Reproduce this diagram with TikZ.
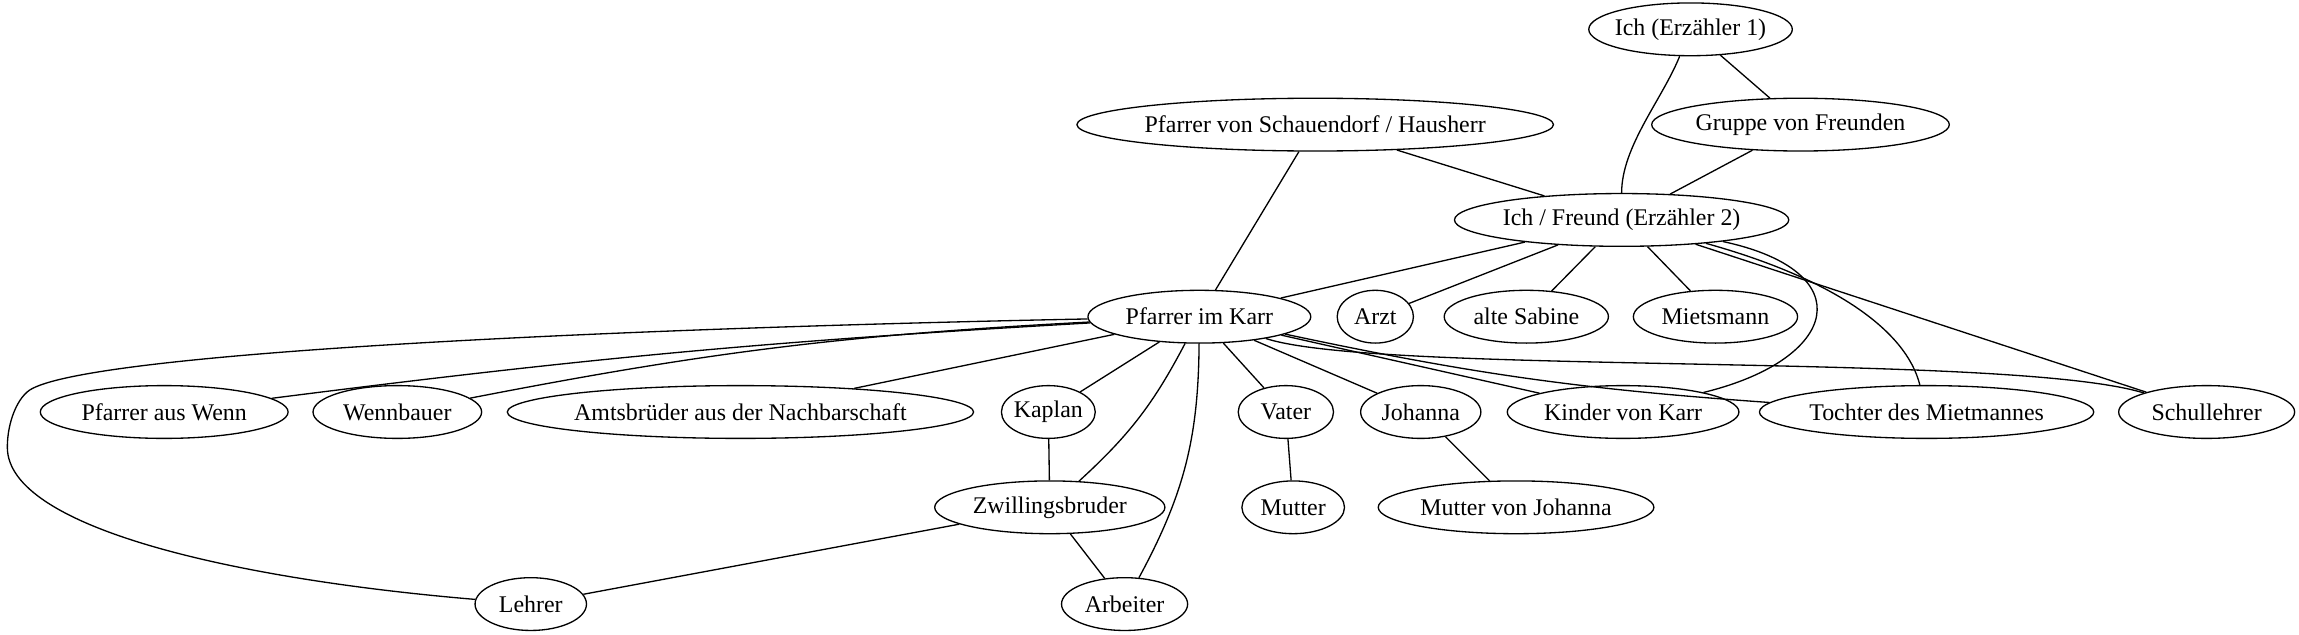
\documentclass[tikz,border=0pt]{standalone}
\usepackage{fontspec}
\setmainfont{Liberation Serif}
\usetikzlibrary{shapes.geometric}

\begin{document}
\begin{tikzpicture}[x=1pt, y=-1pt, line width=0.9pt,
    person/.style={draw, ellipse, minimum height=36pt, inner xsep=-2.5pt,
      inner ysep=1pt, font=\fontsize{16.3}{19}\selectfont}]
      \useasboundingbox (0,0) rectangle (1568,433);
      %\draw [help lines] (0,0) grid [step=50] (1568,433);
      \node [person, minimum width=126pt] (ich1) at (1153,20) {Ich (Erzähler 1)};
      \node [person, minimum width=325pt] (schauen) at (897,85) {Pfarrer von Schauendorf / Hausherr};
      \node [person, minimum width=203pt] (gruppe) at (1228,85) {Gruppe von Freunden};
      \node [person, minimum width=228pt] (ich2) at (1106,150) {Ich / Freund (Erzähler 2)};
      \node [person, minimum width=152pt] (karr) at (818,216) {Pfarrer im Karr};
      \node [person, minimum width=52pt] (arzt) at (938,216) {Arzt};
      \node [person, minimum width=112pt] (sabine) at (1041,216) {alte Sabine};
      \node [person, minimum width=112pt] (miets) at (1170,216) {Mietsmann};
      \node [person, minimum width=169pt] (wenn) at (112,281) {Pfarrer aus Wenn};
      \node [person, minimum width=115pt] (wennb) at (271,281) {Wennbauer};
      \node [person, minimum width=318pt] (amts) at (505,281) {Amtsbrüder aus der Nachbarschaft};
      \node [person, minimum width=64pt] (kaplan) at (715,281) {Kaplan};
      \node [person, minimum width=65pt] (vater) at (877,281) {Vater};
      \node [person, minimum width=82pt] (johanna) at (969,281) {Johanna};
      \node [person, minimum width=158pt] (kinder) at (1107,281) {Kinder von Karr};
      \node [person, minimum width=228pt] (tochter) at (1314,281) {Tochter des Mietmannes};
      \node [person, minimum width=120pt] (schull) at (1505,281) {Schullehrer};
      \node [person, minimum width=157pt] (zwill) at (716,346) {Zwillingsbruder};
      \node [person, minimum width=70pt] (mutter) at (882,346) {Mutter};
      \node [person, minimum width=188pt] (mutterj) at (1034,346) {Mutter von Johanna};
      \node [person, minimum width=76pt] (lehrer) at (362,412) {Lehrer};
      \node [person, minimum width=86pt] (arbeiter) at (767,412) {Arbeiter};

      \draw (ich1) to [out=-112, in=90, looseness=0.8] (ich2);
      \draw (ich1) -- (gruppe);
      \draw (gruppe) -- (ich2);
      \draw (schauen) -- (ich2);
      \draw (schauen) -- (karr);
      \draw (ich2) -- (karr);
      \draw (ich2) -- (arzt);
      \draw (ich2) -- (sabine);
      \draw (ich2) -- (miets);
      \draw (ich2) .. controls (1270,185) and (1255,245) .. (kinder);
      \draw (ich2) .. controls (1250,190) and (1300,225) .. (tochter);
      \draw (ich2) -- (schull);
      \draw (karr) .. controls (420,224) and (70,240) .. (22,265)
      .. controls (12,270) and (5,288) .. (5,305)
      .. controls (5,360) and (160,395) .. (lehrer);
      \draw (karr) to [bend right=2] (wenn);
      \draw (karr) to [bend right=4] (wennb);
      \draw (karr) -- (amts);
      \draw (karr) -- (kaplan);
      \draw (karr) to [bend left=10] (zwill);
      \draw (karr) to [bend left=14] (arbeiter);
      \draw (karr) -- (vater);
      \draw (karr) -- (johanna);
      \draw (karr) -- (kinder);
      \draw (karr) to [bend right=4] (tochter);
      \draw (karr) .. controls (940,256) and (1370,240) .. (schull);
      \draw (kaplan) -- (zwill);
      \draw (vater) -- (mutter);
      \draw (johanna) -- (mutterj);
      \draw (zwill) -- (lehrer);
      \draw (zwill) -- (arbeiter);
    \end{tikzpicture}
\end{document}
